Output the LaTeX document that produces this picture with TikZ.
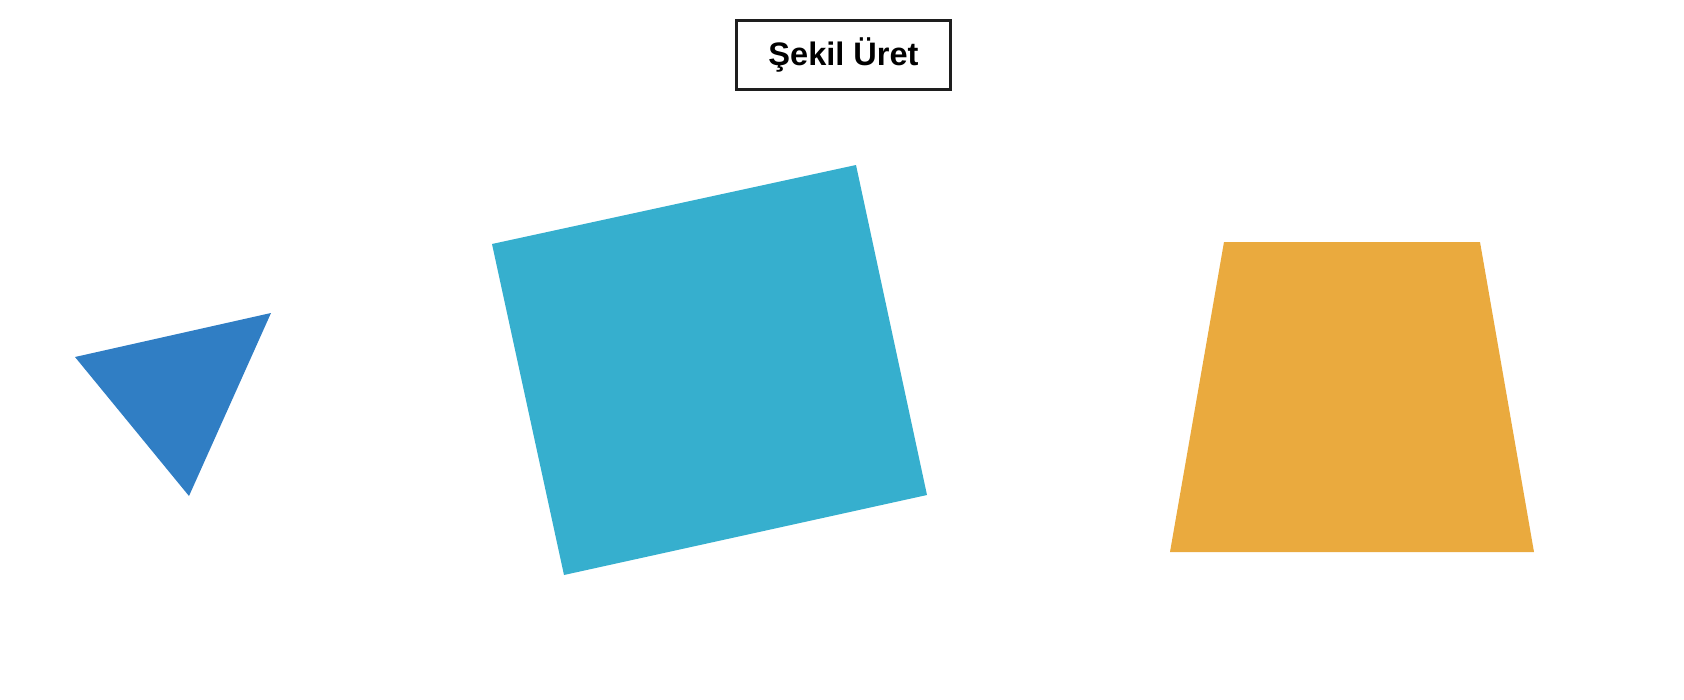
\documentclass[tikz,border=0pt]{standalone}
\usepackage{fontspec}
\setmainfont{Liberation Sans}
\definecolor{ucgen}{RGB}{48,126,196}
\definecolor{kare}{RGB}{54,175,206}
\definecolor{yamuk}{RGB}{234,170,62}
\definecolor{cerceve}{RGB}{30,30,30}
\tikzset{dugme/.style={draw=cerceve,line width=0.85pt,fill=white,inner sep=0pt,
  minimum width=2.14cm,minimum height=0.69cm,text height=0.23cm,text depth=0.03cm,
  font=\bfseries\fontsize{9.25}{11}\selectfont}}
\begin{document}
\begin{tikzpicture}[x=0.01cm,y=-0.01cm]
         \useasboundingbox (0,0) rectangle (1684,700) ;
         \node[dugme] (uret) at (843.5,55) {Şekil Üret} ;
         \fill[ucgen] (75,357)--(271,313)--(189,496)--cycle ; % ucgen
         \fill[kare] (492,244)--(856,165)--(927,495)--(564,575)--cycle ; % kare
         \fill[yamuk] (1224,242)--(1480,242)--(1534,552)--(1170,552)--cycle ; % yamuk
      \end{tikzpicture}
\end{document}
